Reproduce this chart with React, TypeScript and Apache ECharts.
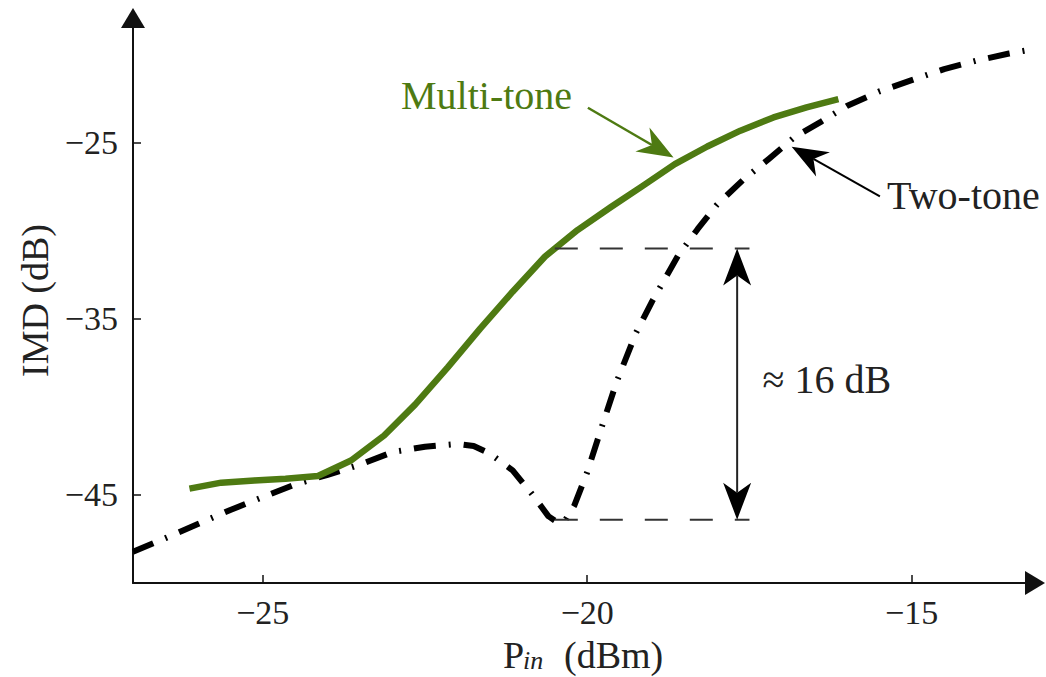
import React, { useEffect, useRef } from "react";
import * as echarts from "echarts";

// ---- Data ----
const multiToneX = [-26.13, -25.64, -25.13, -24.65, -24.15, -23.64, -23.13, -22.65, -22.15, -21.65, -21.15, -20.65, -20.15, -19.64, -19.15, -18.65, -18.15, -17.64, -17.13, -16.62, -16.13];
const multiToneY = [-44.64, -44.3, -44.17, -44.08, -43.92, -43.04, -41.62, -39.85, -37.75, -35.55, -33.45, -31.45, -29.95, -28.65, -27.45, -26.2, -25.2, -24.3, -23.55, -22.98, -22.51];

const twoToneX = [-27.0, -26.5, -26.0, -25.5, -25.0, -24.5, -24.0, -23.5, -23.0, -22.5, -22.0, -21.75, -21.5, -21.15, -20.85, -20.6, -20.5, -20.36, -20.2, -20.0, -19.8, -19.55, -19.25, -19.0, -18.6, -18.3, -18.0, -17.6, -17.2, -16.8, -16.4, -16.0, -15.5, -15.0, -14.5, -14.0, -13.5, -13.1];
const twoToneY = [-48.23, -47.45, -46.65, -45.85, -45.12, -44.4, -43.85, -43.27, -42.56, -42.26, -42.1, -42.22, -42.65, -43.6, -44.95, -46.2, -46.45, -46.55, -45.6, -43.7, -41.4, -38.6, -35.8, -34.0, -31.4, -29.9, -28.5, -27.1, -25.9, -24.65, -23.8, -22.9, -22.07, -21.43, -20.8, -20.32, -19.92, -19.65];

const xTicks = [-25, -20, -15];
const yTicks = [-45, -35, -25];
const xMin = -27;
const xMax = -13.1;
const yMin = -50;
const yMax = -17.9;

// reference (gap) lines
const gapUpper = -31.0;
const gapLower = -46.4;
const gapXStart = -20.5;
const gapXEnd = -17.5;
const gapArrowX = -17.69;
const gapLabel = "≈ 16 dB";

// annotation anchors (data coordinates)
const multiLabel = "Multi-tone";
const multiLabelPos = [-22.87, -22.3];
const multiArrowFrom = [-19.99, -23.0];
const multiArrowTip = [-18.67, -25.83];
const twoLabel = "Two-tone";
const twoLabelPos = [-15.38, -28.0];
const twoArrowFrom = [-15.49, -28.04];
const twoArrowTip = [-16.85, -25.21];
const gapLabelPos = [-17.3, -38.45];

const GREEN = "#4e7a12";
const FONT = "Liberation Serif";

function fmt(v: number) {
  return (v < 0 ? "\u2212" : "") + Math.abs(v);
}

function head(tip: number[], from: number[], len: number, half: number, notch: number) {
  const dx = tip[0] - from[0];
  const dy = tip[1] - from[1];
  const L = Math.hypot(dx, dy);
  const ux = dx / L, uy = dy / L;
  const nx = -uy, ny = ux;
  const bx = tip[0] - ux * len, by = tip[1] - uy * len;
  return {
    points: [
      [tip[0], tip[1]],
      [bx + nx * half, by + ny * half],
      [tip[0] - ux * (len - notch), tip[1] - uy * (len - notch)],
      [bx - nx * half, by - ny * half],
    ],
    neck: [tip[0] - ux * (len - notch), tip[1] - uy * (len - notch)],
  };
}

export default function App() {
  const ref = useRef<HTMLDivElement>(null);
  useEffect(() => {
    if (!ref.current) return;
    const chart = echarts.init(ref.current, null, { renderer: "svg" });
    const option: any = {
      animation: false,
      backgroundColor: "#ffffff",
      textStyle: { fontFamily: FONT },
      grid: { left: 133, right: 11, top: 18, bottom: 94, containLabel: false },
      xAxis: {
        type: "value",
        min: xMin,
        max: xMax,
        axisLine: {
          show: true,
          onZero: false,
          symbol: ["none", "triangle"],
          symbolSize: [24, 20],
          lineStyle: { color: "#111", width: 2 },
        },
        axisTick: { show: true, inside: true, length: 8, customValues: xTicks, lineStyle: { color: "#111", width: 1.5 } },
        axisLabel: { customValues: xTicks, margin: 12, fontSize: 34, fontFamily: FONT, color: "#222", formatter: (v: number) => fmt(v) },
        splitLine: { show: false },
      },
      yAxis: {
        type: "value",
        min: yMin,
        max: yMax,
        name: "IMD (dB)",
        nameLocation: "middle",
        nameGap: 79,
        nameTextStyle: { fontSize: 38, fontFamily: FONT, color: "#222" },
        axisLine: {
          show: true,
          onZero: false,
          symbol: ["none", "triangle"],
          symbolSize: [24, 20],
          lineStyle: { color: "#111", width: 2 },
        },
        axisTick: { show: true, inside: true, length: 8, customValues: yTicks, lineStyle: { color: "#111", width: 1.5 } },
        axisLabel: { customValues: yTicks, margin: 15, fontSize: 34, fontFamily: FONT, color: "#222", formatter: (v: number) => fmt(v) },
        splitLine: { show: false },
      },
      series: [
        {
          name: "Two-tone",
          type: "line",
          data: twoToneX.map((x, i) => [x, twoToneY[i]]),
          symbol: "none",
          showSymbol: false,
          z: 2,
          lineStyle: { color: "#000", width: 6, type: [22, 13, 2, 13], cap: "butt", join: "round" },
        },
        {
          name: "Multi-tone",
          type: "line",
          data: multiToneX.map((x, i) => [x, multiToneY[i]]),
          symbol: "none",
          showSymbol: false,
          z: 3,
          lineStyle: { color: GREEN, width: 6.5, cap: "butt", join: "round" },
        },
      ],
    };
    chart.setOption(option);

    const px = (p: number[]) => chart.convertToPixel({ gridIndex: 0 }, p) as number[];

    const elements: any[] = [];
    const uA = px([gapXStart, gapUpper]);
    const uB = px([gapXEnd, gapUpper]);
    const lA = px([gapXStart, gapLower]);
    const lB = px([gapXEnd, gapLower]);
    [
      [uA, uB],
      [lA, lB],
    ].forEach(([a, b]) => {
      elements.push({
        type: "line",
        shape: { x1: a[0], y1: a[1], x2: b[0], y2: b[1] },
        style: { stroke: "#333", lineWidth: 2, lineDash: [23, 22] },
        z: 10,
      });
    });
    const vTop = px([gapArrowX, gapUpper]);
    const vBot = px([gapArrowX, gapLower]);
    const hTop = head(vTop, vBot, 37, 14, 10);
    const hBot = head(vBot, vTop, 37, 14, 10);
    elements.push({
      type: "line",
      shape: { x1: hTop.neck[0], y1: hTop.neck[1], x2: hBot.neck[0], y2: hBot.neck[1] },
      style: { stroke: "#222", lineWidth: 2 },
      z: 10,
    });
    elements.push({ type: "polygon", shape: { points: hTop.points }, style: { fill: "#000" }, z: 10 });
    elements.push({ type: "polygon", shape: { points: hBot.points }, style: { fill: "#000" }, z: 10 });

    const mFrom = px(multiArrowFrom);
    const mTip = px(multiArrowTip);
    const mHead = head(mTip, mFrom, 36, 14, 11);
    elements.push({
      type: "line",
      shape: { x1: mFrom[0], y1: mFrom[1], x2: mHead.neck[0], y2: mHead.neck[1] },
      style: { stroke: GREEN, lineWidth: 2.5 },
      z: 10,
    });
    elements.push({ type: "polygon", shape: { points: mHead.points }, style: { fill: GREEN }, z: 10 });

    const tFrom = px(twoArrowFrom);
    const tTip = px(twoArrowTip);
    const tHead = head(tTip, tFrom, 36, 14, 11);
    elements.push({
      type: "line",
      shape: { x1: tFrom[0], y1: tFrom[1], x2: tHead.neck[0], y2: tHead.neck[1] },
      style: { stroke: "#000", lineWidth: 2 },
      z: 10,
    });
    elements.push({ type: "polygon", shape: { points: tHead.points }, style: { fill: "#000" }, z: 10 });

    const textStyle = (text: string, fill: string, size: number, italic = false) => ({
      text,
      fill,
      fontSize: size,
      fontFamily: FONT,
      fontStyle: italic ? "italic" : "normal",
      align: "left",
      verticalAlign: "middle",
    });

    const mL = px(multiLabelPos);
    elements.push({ type: "text", x: mL[0], y: mL[1], style: textStyle(multiLabel, GREEN, 40), z: 11 });
    const tL = px(twoLabelPos);
    elements.push({ type: "text", x: tL[0], y: tL[1], style: textStyle(twoLabel, "#222", 40), z: 11 });
    const gL = px(gapLabelPos);
    elements.push({ type: "text", x: gL[0], y: gL[1], style: textStyle(gapLabel, "#222", 40), z: 11 });

    // x-axis title: P_in (dBm)
    elements.push({ type: "text", x: 503, y: 655, style: textStyle("P", "#222", 38), z: 11 });
    elements.push({ type: "text", x: 523, y: 660, style: textStyle("in", "#222", 26, true), z: 11 });
    elements.push({ type: "text", x: 564, y: 655, style: textStyle("(dBm)", "#222", 38), z: 11 });

    chart.setOption({ graphic: { elements } });

    return () => chart.dispose();
  }, []);

  return (
    <div
      ref={ref}
      style={{ position: "fixed", left: 0, top: 0, width: 1046, height: 677, background: "#fff" }}
    />
  );
}
